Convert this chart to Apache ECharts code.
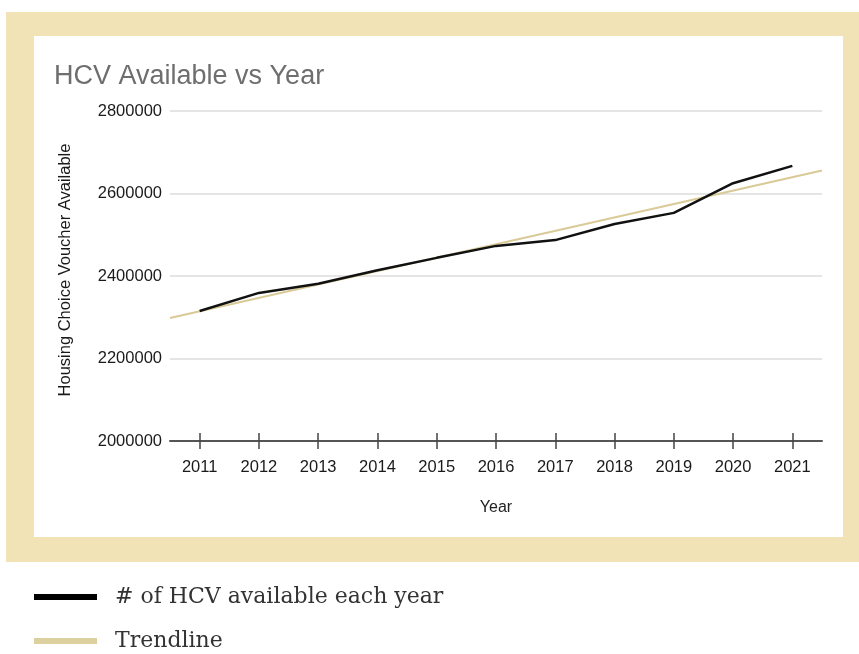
<!DOCTYPE html>
<html>
<head>
<meta charset="utf-8">
<script src="https://cdn.jsdelivr.net/npm/echarts@6/dist/echarts.min.js"></script>
<style>
html,body{margin:0;padding:0;background:#fff;}
#chart{width:859px;height:654px;}
</style>
</head>
<body>
<div id="chart"></div>
<script>
// Data
const years = [2011, 2012, 2013, 2014, 2015, 2016, 2017, 2018, 2019, 2020, 2021];
const hcvAvailable = [2315000, 2359000, 2381000, 2414000, 2444000, 2473000, 2487000, 2526000, 2553000, 2625000, 2667000];
const trendYears = [2010.5, 2021.5];
const trendValues = [2298000, 2656000];
const yTicks = [2000000, 2200000, 2400000, 2600000, 2800000];
const seriesNames = ['# of HCV available each year', 'Trendline'];

const chart = echarts.init(document.getElementById('chart'));

const hcvData = years.map((y, i) => [y, hcvAvailable[i]]);
const trendData = trendYears.map((y, i) => [y, trendValues[i]]);
const sans = 'Liberation Sans, Arial, Helvetica, sans-serif';

const option = {
  backgroundColor: '#ffffff',
  animation: false,
  graphic: [
    { type: 'rect', z: -10, silent: true, shape: { x: 6, y: 12, width: 853, height: 550 }, style: { fill: '#f1e3b6' } },
    { type: 'rect', z: -9, silent: true, shape: { x: 34, y: 36, width: 809, height: 501 }, style: { fill: '#ffffff' } }
  ],
  title: {
    text: 'HCV Available vs Year',
    left: 49,
    top: 58,
    textStyle: { fontFamily: sans, fontSize: 27, fontWeight: 'normal', color: '#6e6e6e' }
  },
  legend: {
    orient: 'vertical',
    left: 34,
    top: 586,
    height: 120,
    padding: 0,
    itemWidth: 63,
    itemHeight: 6,
    itemGap: 22,
    icon: 'rect',
    data: [
      { name: seriesNames[0], itemStyle: { color: '#000000' } },
      { name: seriesNames[1], itemStyle: { color: '#ddd09f' } }
    ],
    textStyle: { fontFamily: 'DejaVu Serif, serif', fontSize: 22, color: '#333', padding: [0, 0, 0, 13] }
  },
  grid: { left: 170, right: 37, top: 111, bottom: 213 },
  xAxis: [
    {
      type: 'value',
      min: 2010.5,
      max: 2021.5,
      position: 'bottom',
      name: 'Year',
      nameLocation: 'middle',
      nameGap: 59,
      nameTextStyle: { fontFamily: sans, fontSize: 16, color: '#222' },
      axisLine: { show: true, lineStyle: { color: '#555', width: 2 } },
      axisTick: { show: true, length: 8, inside: false, customValues: years, lineStyle: { color: '#444', width: 1.5 } },
      axisLabel: { customValues: years, margin: 18, formatter: v => String(v), fontFamily: sans, fontSize: 16.5, color: '#1a1a1a' },
      splitLine: { show: false }
    },
    {
      type: 'value',
      min: 2010.5,
      max: 2021.5,
      position: 'bottom',
      axisLine: { show: false },
      axisTick: { show: true, length: 8, inside: true, customValues: years, lineStyle: { color: '#444', width: 1.5 } },
      axisLabel: { show: false },
      splitLine: { show: false }
    }
  ],
  yAxis: {
    type: 'value',
    min: yTicks[0],
    max: yTicks[yTicks.length - 1],
    interval: 200000,
    name: 'Housing Choice Voucher Available',
    nameLocation: 'middle',
    nameRotate: 90,
    nameGap: 96,
    nameTextStyle: { fontFamily: sans, fontSize: 16.5, color: '#1a1a1a', padding: [0, 0, 0, 12] },
    axisLine: { show: false },
    axisTick: { show: false },
    axisLabel: { margin: 8, formatter: v => String(v), fontFamily: sans, fontSize: 16.5, color: '#1a1a1a' },
    splitLine: { show: true, lineStyle: { color: '#dddddd', width: 1.5 } }
  },
  series: [
    {
      name: seriesNames[1],
      type: 'line',
      xAxisIndex: 0,
      data: trendData,
      showSymbol: false,
      symbol: 'none',
      lineStyle: { color: '#d9ca98', width: 2 },
      itemStyle: { color: '#ddd09f' },
      z: 2
    },
    {
      name: seriesNames[0],
      type: 'line',
      xAxisIndex: 0,
      data: hcvData,
      showSymbol: false,
      symbol: 'none',
      lineStyle: { color: '#111111', width: 2.5 },
      itemStyle: { color: '#000000' },
      z: 3
    }
  ]
};

chart.setOption(option);
</script>
</body>
</html>
